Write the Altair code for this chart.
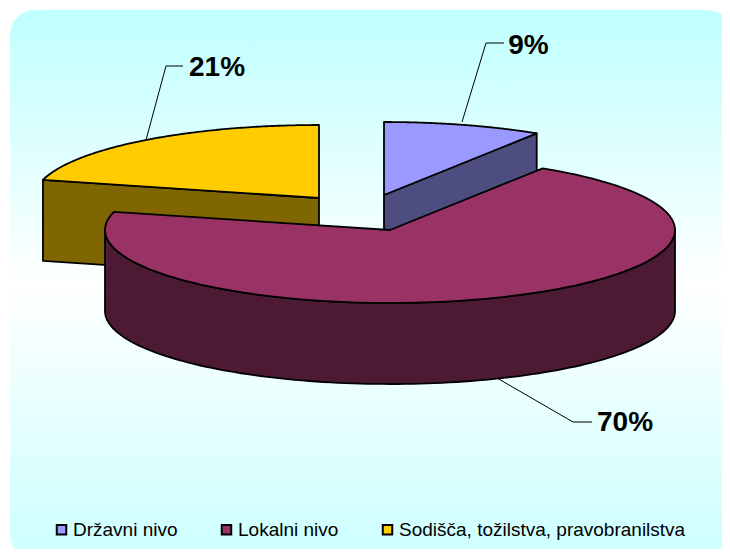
import math
import altair as alt

categories = ["Državni nivo", "Lokalni nivo", "Sodišča, tožilstva, pravobranilstva"]
shares = [9, 70, 21]
top_colors = ["#9999FF", "#993366", "#FFCC00"]
side_colors = ["#4D4D80", "#4D1A33", "#806600"]
label_texts = [f"{v}%" for v in shares]


def cx(x):
    return x - 8


def cy(y):
    return y - 8


def cpt(p):
    return [cx(p[0]), cy(p[1])]


A, B, DEPTH = 285, 73, 81
apexes = [(384, 195), (390, 230), (319, 198)]


def rim(c, deg):
    t = math.radians(deg)
    return [c[0] + A * math.sin(t), c[1] - B * math.cos(t)]


def arc(c, d0, d1, dy=0, n=120):
    pts = []
    for i in range(n + 1):
        p = rim(c, d0 + (d1 - d0) * i / n)
        pts.append([p[0], p[1] + dy])
    return pts


def feature(name, ring):
    ring = [cpt(p) for p in ring + [ring[0]]]
    return {"type": "Feature", "properties": {"name": name},
            "geometry": {"type": "Polygon", "coordinates": [ring]}}


total = sum(shares)
bounds, acc = [], 0
for v in shares:
    bounds.append((acc * 360 / total, (acc + v) * 360 / total))
    acc += v


def top(i):
    c = apexes[i]
    return feature(categories[i], [list(c)] + arc(c, *bounds[i]))


def cut_side(i, deg):
    c = apexes[i]
    p = rim(c, deg)
    return feature(categories[i] + " side",
                   [list(c), p, [p[0], p[1] + DEPTH], [c[0], c[1] + DEPTH]])


def wall(i):
    c = apexes[i]
    return feature(categories[i] + " side",
                   arc(c, 90, 270) + arc(c, 270, 90, DEPTH))


features = [
    cut_side(2, bounds[2][0]),
    cut_side(0, bounds[0][1]),
    top(2),
    top(0),
    wall(1),
    top(1),
]

domain = categories + [c + " side" for c in categories]
color_range = top_colors + side_colors

leaders = [
    [(462, 122), (486, 43), (504, 43)],
    [(497, 378), (573, 422), (592, 422)],
    [(146, 140), (166, 66), (183, 66)],
]
leader_features = [
    {"type": "Feature", "properties": {"name": c},
     "geometry": {"type": "LineString", "coordinates": [cpt(p) for p in pts]}}
    for c, pts in zip(categories, leaders)
]
label_pos = [(528.5, 46), (625, 423), (217, 68)]

proj = dict(type="identity", scale=1, translate=[0, 0])


def geo(feats):
    return alt.Data(values={"type": "FeatureCollection", "features": feats},
                    format=alt.DataFormat(property="features", type="json"))


shadow = alt.Chart(alt.Data(values=[{"a": 1}])).mark_rect(
    cornerRadius=25, fill="#000000"
).encode(x=alt.value(cx(13)), x2=alt.value(cx(735)), y=alt.value(cy(13)), y2=alt.value(cy(562)))

panel = alt.Chart(alt.Data(values=[{"a": 1}])).mark_rect(
    cornerRadius=25,
    fill=alt.Gradient(
        gradient="linear", x1=0, x2=0, y1=0, y2=1,
        stops=[alt.GradientStop(offset=0, color="#BFFFFF"),
               alt.GradientStop(offset=0.5, color="#FFFFFF"),
               alt.GradientStop(offset=1, color="#CCFFFF")],
    ),
).encode(x=alt.value(cx(10)), x2=alt.value(cx(732)), y=alt.value(cy(10)), y2=alt.value(cy(559)))

pie = alt.Chart(geo(features)).mark_geoshape(
    stroke="#000000", strokeWidth=1.8, strokeJoin="round"
).encode(
    color=alt.Color(
        "properties.name:N",
        scale=alt.Scale(domain=domain, range=color_range),
        legend=alt.Legend(
            title=None, orient="none", direction="horizontal", columns=3,
            legendX=cx(52), legendY=cy(520), values=categories,
            symbolType="square", symbolSize=90, symbolStrokeColor="#000000",
            symbolStrokeWidth=2,
            labelFont="Liberation Sans", labelFontSize=19, labelColor="#000000",
            labelLimit=400, labelOffset=2, columnPadding=39, padding=0,
        ),
    ),
).project(**proj)

lines = alt.Chart(geo(leader_features)).mark_geoshape(
    filled=False, stroke="#000000", strokeWidth=1
).project(**proj)

text_layers = [
    alt.Chart(alt.Data(values=[{"label": t}])).mark_text(
        font="Liberation Sans", fontSize=28, fontWeight="bold", color="#000000",
        align="center", baseline="middle",
    ).encode(text="label:N", x=alt.value(cx(p[0])), y=alt.value(cy(p[1])))
    for t, p in zip(label_texts, label_pos)
]

chart = alt.layer(shadow, panel, lines, pie, *text_layers).properties(
    width=714, height=541, padding=0,
    autosize=alt.AutoSizeParams(type="none"),
    background="#FFFFFF",
).configure_view(stroke=None)

chart.save("out.html", embed_options={"renderer": "svg", "actions": False})
